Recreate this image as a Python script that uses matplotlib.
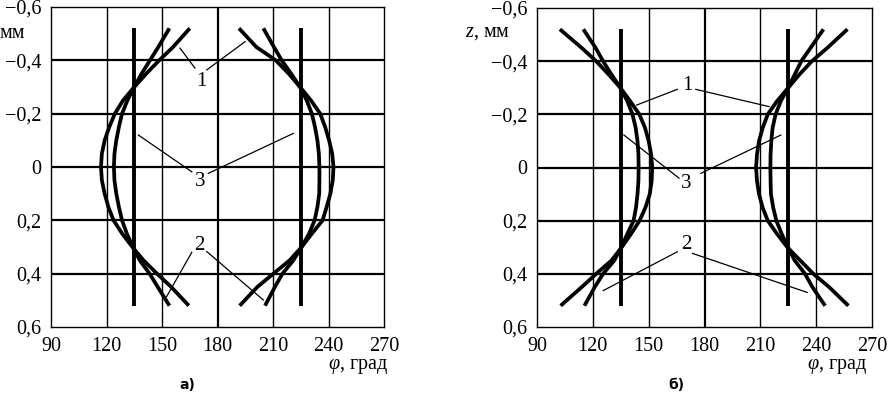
import matplotlib

matplotlib.use("Agg")
import matplotlib.pyplot as plt

plt.rcParams["font.family"] = ["Liberation Serif", "DejaVu Serif"]
plt.rcParams["mathtext.fontset"] = "custom"
plt.rcParams["mathtext.it"] = "Liberation Serif:italic"
plt.rcParams["mathtext.rm"] = "Liberation Serif"

# ---- data ----------------------------------------------------------------
# x axis: phi, deg; y axis: z, mm (down is positive)
phi_ticks = [90, 120, 150, 180, 210, 240, 270]
z_ticks = [-0.6, -0.4, -0.2, 0.0, 0.2, 0.4, 0.6]
z_tick_labels = ["\u22120,6", "\u22120,4", "\u22120,2", "0", "0,2", "0,4", "0,6"]

z_pts = [-0.52, -0.45, -0.4, -0.35, -0.3, -0.25, -0.2, -0.15, -0.1, -0.05, 0.0,
         0.05, 0.1, 0.15, 0.2, 0.25, 0.3, 0.35, 0.4, 0.45, 0.52]

# panel a) -- closed (barrel) profiles
a_left_1 = [165, 156, 148.5, 141.5, 135, 129, 124.5, 121.5, 119, 117.5, 117,
            117.5, 119, 121, 123.8, 128.5, 134, 140, 147.3, 155, 164.5]
a_left_2 = [154, 148, 143.5, 139, 135, 131.3, 128.4, 126.7, 125.3, 124.3, 124,
            124.3, 125.3, 126.7, 128.4, 131, 134.3, 138, 143.3, 147.7, 154]
a_right_1 = [191.6, 201, 211.5, 218.5, 224.6, 230.5, 235.5, 238.2, 240.3, 242, 242.7,
             242.3, 241, 239, 236.8, 231, 225.5, 219, 210.2, 201.5, 192]
a_right_2 = [204.8, 210.5, 214.7, 219.8, 224.6, 228.2, 231, 232.7, 234, 234.8, 235.1,
             235.1, 235, 234, 232.5, 229.5, 225.4, 221, 215.1, 211, 205.7]

# panel б) -- open (hourglass) profiles
b_left_1 = [102.3, 114, 121.8, 128.5, 134.8, 140, 145, 148, 150, 151.3, 151.9,
            151.6, 150.6, 148.3, 145.1, 140.5, 135.5, 130, 121.8, 114, 102.7]
b_left_2 = [114.9, 121.5, 125.5, 130, 134.8, 138.5, 141.3, 143, 144, 144.5, 144.6,
            144.5, 144, 143.2, 141.9, 138.5, 135.3, 131.5, 125.5, 121, 115.5]
b_right_1 = [256.8, 246, 237.7, 231, 225.0, 219, 214, 211.3, 209.3, 208.2, 207.7,
             208.2, 209.3, 211.2, 214, 219, 224.5, 231.5, 238.5, 247, 257.3]
b_right_2 = [243.9, 237, 232, 228.5, 225.0, 221, 218.2, 216.6, 215.9, 215.5, 215.4,
             215.5, 215.7, 216.9, 218.6, 221.5, 224.8, 228.5, 234, 238, 244.8]

# straight lines (curve 3)
line3_phi = [135, 225]
line3_z = [-0.52, 0.52]

# callout labels: (text, (x, y), [leader end points as (from, to)])
a_callouts = [
    ("1", (171.5, -0.32), [((167.8, -0.371), (159.7, -0.446)),
                           ((174.2, -0.364), (194.9, -0.47))]),
    ("3", (170.5, 0.055), [((166.1, 0.018), (137.2, -0.12)),
                           ((175.0, 0.024), (221.0, -0.126))]),
    ("2", (170.2, 0.293), [((166.1, 0.32), (152.5, 0.486)),
                           ((174.2, 0.317), (204.8, 0.499))]),
]
b_callouts = [
    ("1", (170.8, -0.31), [((165.4, -0.294), (143.6, -0.235)),
                           ((175.3, -0.294), (214.7, -0.229))]),
    ("3", (170.4, 0.06), [((166.3, 0.04), (136.7, -0.122)),
                          ((178.0, 0.022), (221.0, -0.122))]),
    ("2", (170.4, 0.29), [((165.4, 0.317), (125.6, 0.463)),
                          ((173.5, 0.323), (235.2, 0.47))]),
]

W, H = 888, 393
fig = plt.figure(figsize=(W / 100, H / 100), dpi=100)


def px_axes(x0, y0, x1, y1):
    """Axes placed by pixel box (left, top, right, bottom)."""
    return fig.add_axes([x0 / W, 1 - y1 / H, (x1 - x0) / W, (y1 - y0) / H])


def draw_panel(ax, curves, callouts, caption, ylabel, ylabel_x, xlabel_right):
    ax.set_xlim(90, 270)
    ax.set_ylim(0.6, -0.6)
    ax.set_xticks(phi_ticks)
    ax.set_yticks(z_ticks)
    ax.set_yticklabels(z_tick_labels)
    ax.tick_params(length=0, labelsize=14.5, pad=7)
    for s in ax.spines.values():
        s.set_linewidth(1.0)
    for x in phi_ticks[1:-1]:
        ax.axvline(x, color="black", lw=1.0 if x != 180 else 1.6, zorder=1)
    for z in z_ticks[1:-1]:
        ax.axhline(z, color="black", lw=1.6, zorder=1)

    for phis in curves:
        ax.plot(phis, z_pts, color="black", lw=2.7, solid_capstyle="butt",
                solid_joinstyle="round", zorder=3)
    for p in line3_phi:
        ax.plot([p, p], line3_z, color="black", lw=2.8, solid_capstyle="butt", zorder=3)

    for text, (tx, tz), leaders in callouts:
        ax.text(tx, tz, text, fontsize=15, ha="center", va="center", zorder=5)
        for (x0, z0), (x1, z1) in leaders:
            ax.plot([x0, x1], [z0, z1], color="black", lw=0.9, zorder=4)

    fig.text(xlabel_right / W, 1 - 366 / H, r"$\varphi$, град",
             fontsize=14.5, ha="right", va="center")
    fig.text(ylabel_x / W, 1 - 33 / H, ylabel, fontsize=14.5, ha="left", va="center")
    fig.text(caption[1] / W, 1 - 385 / H, caption[0],
             fontsize=10, fontweight="bold", family="DejaVu Sans",
             ha="center", va="center")


ax_a = px_axes(51, 7, 384, 327)
draw_panel(ax_a, [a_left_1, a_left_2, a_right_1, a_right_2], a_callouts,
           ("а)", 187), "мм", 0, 388)

ax_b = px_axes(537, 8, 872, 327)
draw_panel(ax_b, [b_left_1, b_left_2, b_right_1, b_right_2], b_callouts,
           ("б)", 676), r"$z$, мм", 465, 867)

fig.savefig("out.png", dpi=100)
